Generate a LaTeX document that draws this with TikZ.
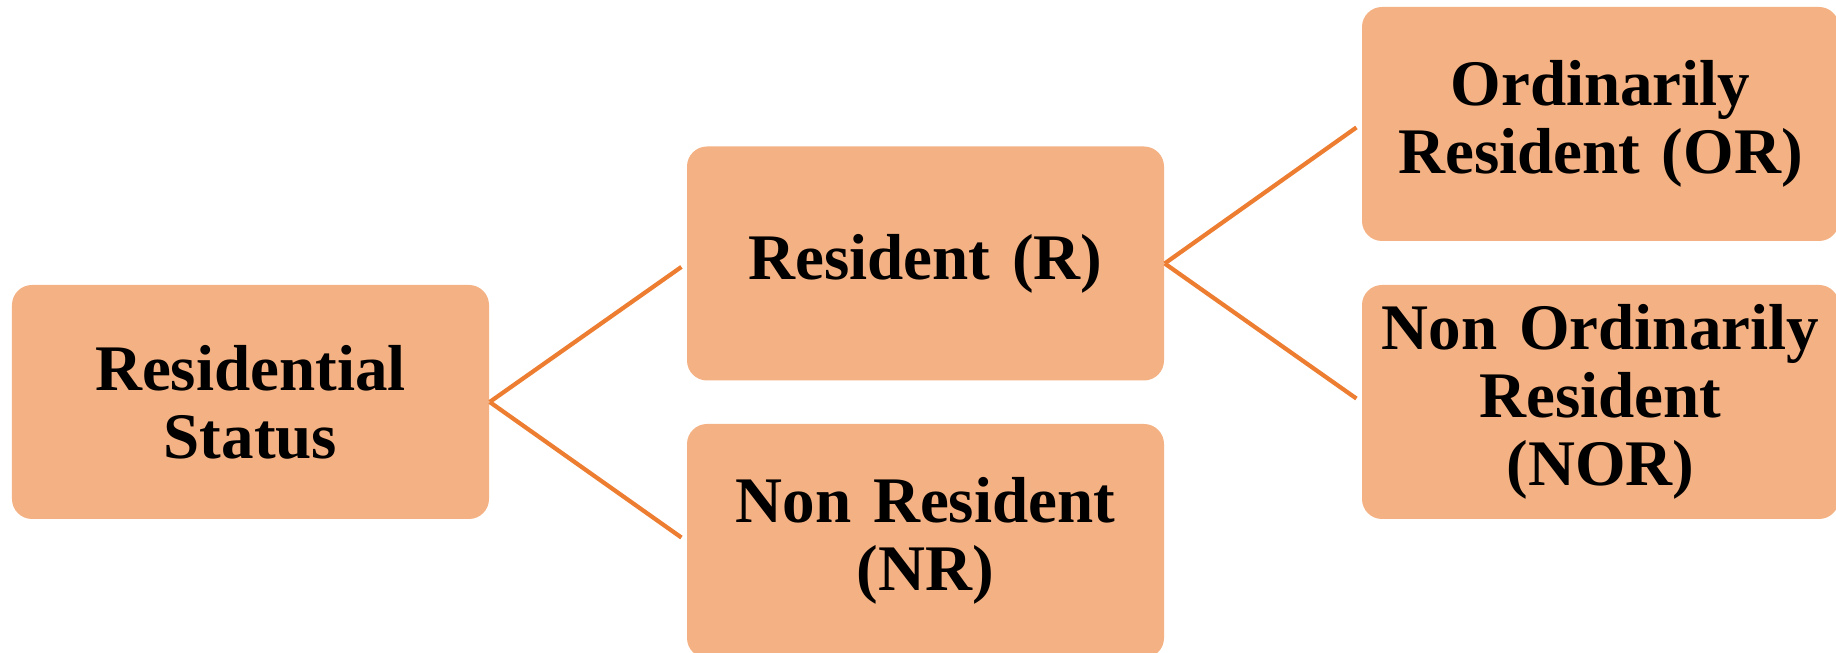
\documentclass[tikz,border=0pt]{standalone}
\usepackage{fontspec}
\setmainfont{Liberation Serif}
\usepackage{tikz}
\usetikzlibrary{shapes.geometric, arrows}
\definecolor{boxfill}{HTML}{F4B183}
\definecolor{linkline}{HTML}{ED7D31}

\begin{document}
\begin{tikzpicture}[node distance=6.75 cm]
\tikzstyle{status} = [rectangle, rounded corners=0.2 cm, minimum width=4.77 cm, minimum height=2.34 cm, text width=4.4 cm, text centered, fill=boxfill, font=\fontsize{18.5}{19.4}\selectfont\bfseries]
\tikzstyle{link} = [draw=linkline, line width=1.2 pt, shorten >=1.7 pt]
\useasboundingbox (-2.505,4.02) rectangle (15.855,-2.51);
\node (RS)  [status, align=center] {Residential\\Status};
\node (R)   [status, align=center, right of=RS, yshift=1.385 cm] {Resident (R)};
\node (NR)  [status, align=center, right of=RS, yshift=-1.39 cm] {Non Resident\\(NR)};
\node (OR)  [status, align=center, right of=R, yshift=1.395 cm] {Ordinarily\\Resident (OR)};
\node (NOR) [status, align=center, right of=R, yshift=-1.385 cm] {Non Ordinarily\\Resident\\(NOR)};

\draw [link] (RS.east) -- (R.west);
\draw [link] (RS.east) -- (NR.west);
\draw [link] (R.east) -- (OR.west);
\draw [link] (R.east) -- (NOR.west);

\end{tikzpicture}
\end{document}
